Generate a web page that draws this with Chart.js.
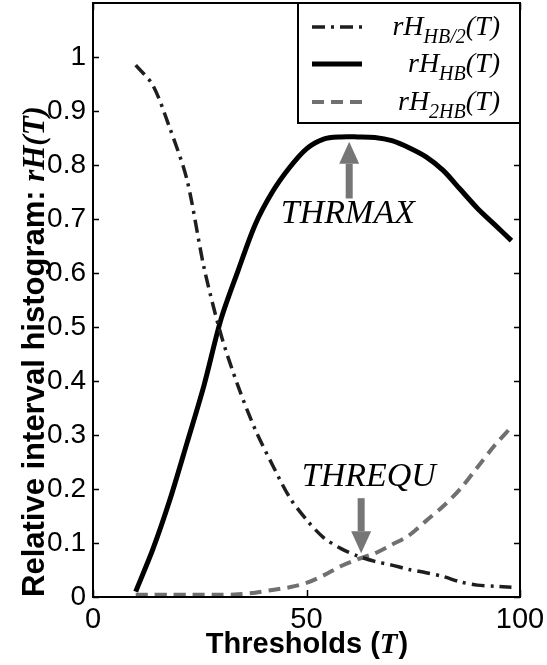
<!DOCTYPE html>
<html lang="en">
  <head>
    <meta charset="UTF-8">
    <title>Relative interval histogram</title>
    <script src="https://cdn.jsdelivr.net/npm/chart.js"></script>
    <style>
      body { margin: 0; background: #fff; }
      canvas { display: block; }
    </style>
  </head>

  <body>
    <canvas id="grafico" width="547" height="665"></canvas>

    <script>
      // data
      const thresholds = [10, 14, 18, 22, 26, 30, 34, 38, 42, 46, 50, 54, 58, 62, 66, 70, 74, 78, 82, 86, 90, 94, 98]
      const rhHalf = [0.985, 0.948, 0.868, 0.773, 0.61, 0.485, 0.39, 0.31, 0.245, 0.185, 0.143, 0.11, 0.09, 0.076, 0.066, 0.059, 0.051, 0.045, 0.038, 0.028, 0.022, 0.02, 0.018]
      const rhHB = [0.01, 0.088, 0.18, 0.285, 0.392, 0.515, 0.605, 0.69, 0.75, 0.795, 0.83, 0.848, 0.852, 0.852, 0.851, 0.845, 0.832, 0.815, 0.79, 0.755, 0.72, 0.69, 0.66]
      const rh2HB = [0.004, 0.004, 0.004, 0.004, 0.004, 0.004, 0.005, 0.008, 0.013, 0.018, 0.026, 0.04, 0.057, 0.07, 0.081, 0.097, 0.114, 0.141, 0.168, 0.2, 0.24, 0.28, 0.315]

      const xTicks = [0, 50, 100]
      const yTicks = [0, 0.1, 0.2, 0.3, 0.4, 0.5, 0.6, 0.7, 0.8, 0.9, 1]
      const yTickLabels = ["0", "0.1", "0.2", "0.3", "0.4", "0.5", "0.6", "0.7", "0.8", "0.9", "1"]

      // legend text pieces: subscripts
      const legendSubs = ["HB/2", "HB", "2HB"]

      const pares = (ys) => thresholds.map((t, i) => ({ x: t, y: ys[i] }))

      // frame with inward ticks (matlab style)
      const moldura = {
        id: 'moldura',
        afterDatasetsDraw(chart) {
          const { ctx, chartArea: a, scales } = chart
          ctx.save()
          ctx.strokeStyle = '#000'
          ctx.lineWidth = 2
          ctx.strokeRect(a.left, a.top, a.right - a.left, a.bottom - a.top)
          ctx.lineWidth = 1.5
          ctx.beginPath()
          yTicks.forEach(v => {
            const py = Math.round(scales.y.getPixelForValue(v)) + 0.5
            ctx.moveTo(a.left, py); ctx.lineTo(a.left + 6, py)
            ctx.moveTo(a.right, py); ctx.lineTo(a.right - 6, py)
          })
          xTicks.forEach(v => {
            const px = Math.round(scales.x.getPixelForValue(v)) + 0.5
            ctx.moveTo(px, a.bottom); ctx.lineTo(px, a.bottom - 7)
            ctx.moveTo(px, a.top); ctx.lineTo(px, a.top + 7)
          })
          ctx.stroke()
          ctx.restore()
        }
      }

      // arrows + labels
      const setas = [
        { texto: "THRMAX", x: 60, de: 0.738, ate: 0.843, tx: 59.7, ty: 0.692 },
        { texto: "THREQU", x: 62.8, de: 0.183, ate: 0.081, tx: 64.6, ty: 0.205 }
      ]
      const anotacoes = {
        id: 'anotacoes',
        afterDatasetsDraw(chart) {
          const { ctx, scales } = chart
          ctx.save()
          setas.forEach(s => {
            const px = scales.x.getPixelForValue(s.x)
            const y0 = scales.y.getPixelForValue(s.de)
            const y1 = scales.y.getPixelForValue(s.ate)
            const dir = y1 < y0 ? 1 : -1
            const baseCabeca = y1 + dir * 22
            ctx.fillStyle = '#767676'
            ctx.fillRect(px - 3.5, Math.min(y0, baseCabeca), 7, Math.abs(baseCabeca - y0))
            ctx.beginPath()
            ctx.moveTo(px, y1)
            ctx.lineTo(px - 10, baseCabeca)
            ctx.lineTo(px + 10, baseCabeca)
            ctx.closePath()
            ctx.fill()

            ctx.fillStyle = '#000'
            ctx.font = 'italic 34px "Liberation Serif"'
            ctx.textAlign = 'center'
            ctx.textBaseline = 'alphabetic'
            ctx.fillText(s.texto, scales.x.getPixelForValue(s.tx), scales.y.getPixelForValue(s.ty))
          })
          ctx.restore()
        }
      }

      // legend with subscripts
      const legenda = {
        id: 'legenda',
        afterDatasetsDraw(chart) {
          const { ctx, chartArea: a } = chart
          const caixa = { l: 298, t: a.top, r: a.right, b: 123 }
          ctx.save()
          ctx.fillStyle = '#fff'
          ctx.fillRect(caixa.l, caixa.t, caixa.r - caixa.l, caixa.b - caixa.t)
          ctx.strokeStyle = '#000'
          ctx.lineWidth = 2
          ctx.strokeRect(caixa.l, caixa.t, caixa.r - caixa.l, caixa.b - caixa.t)

          const linhas = [27, 64, 102]
          chart.data.datasets.forEach((ds, i) => {
            const yy = linhas[i]
            ctx.beginPath()
            ctx.strokeStyle = ds.borderColor
            ctx.lineWidth = ds.borderWidth
            ctx.setLineDash(ds.borderDash || [])
            ctx.moveTo(312, yy); ctx.lineTo(362, yy)
            ctx.stroke()
            ctx.setLineDash([])

            const fBase = 'italic 28px "Liberation Serif"'
            const fSub = 'italic 20px "Liberation Serif"'
            ctx.font = fBase
            const w1 = ctx.measureText("rH").width
            const w3 = ctx.measureText("(T)").width
            ctx.font = fSub
            const w2 = ctx.measureText(legendSubs[i]).width
            let xx = 500 - (w1 + w2 + w3)
            const base = yy + 8
            ctx.fillStyle = '#000'
            ctx.textAlign = 'left'
            ctx.textBaseline = 'alphabetic'
            ctx.font = fBase
            ctx.fillText("rH", xx, base); xx += w1
            ctx.font = fSub
            ctx.fillText(legendSubs[i], xx, base + 8); xx += w2
            ctx.font = fBase
            ctx.fillText("(T)", xx, base)
          })
          ctx.restore()
        }
      }

      // axis titles with mixed fonts
      const titulos = {
        id: 'titulos',
        afterDraw(chart) {
          const { ctx, chartArea: a } = chart
          ctx.save()
          ctx.fillStyle = '#000'
          ctx.textBaseline = 'alphabetic'
          ctx.textAlign = 'left'

          // x title
          const sans = 'bold 29px "Liberation Sans"'
          const serif = 'bold italic 29px "Liberation Serif"'
          ctx.font = sans
          const a1 = ctx.measureText("Thresholds (").width
          const a3 = ctx.measureText(")").width
          ctx.font = serif
          const a2 = ctx.measureText("T").width
          let xx = (a.left + a.right) / 2 - (a1 + a2 + a3) / 2
          ctx.font = sans; ctx.fillText("Thresholds (", xx, 653); xx += a1
          ctx.font = serif; ctx.fillText("T", xx, 653); xx += a2 + 1
          ctx.font = sans; ctx.fillText(")", xx, 653)

          // y title, starts at the bottom of the axis
          const sansY = 'bold 31px "Liberation Sans"'
          const serifY = 'bold italic 31px "Liberation Serif"'
          ctx.font = sansY
          const b1 = ctx.measureText("Relative interval histogram: ").width
          ctx.translate(44, 597)
          ctx.rotate(-Math.PI / 2)
          ctx.fillText("Relative interval histogram: ", 0, 0)
          ctx.font = serifY
          ctx.fillText("rH(T)", b1, 0)
          ctx.restore()
        }
      }

      const ctx = document.getElementById('grafico')

      new Chart(ctx, {
        type: 'line',
        data: {
          datasets: [
            {
              label: 'rH_HB/2(T)',
              data: pares(rhHalf),
              borderColor: '#1e1e1e',
              borderWidth: 3.5,
              borderDash: [13, 6, 3, 6]
            },
            {
              label: 'rH_HB(T)',
              data: pares(rhHB),
              borderColor: '#000',
              borderWidth: 5
            },
            {
              label: 'rH_2HB(T)',
              data: pares(rh2HB),
              borderColor: '#707070',
              borderWidth: 4,
              borderDash: [12, 7]
            }
          ]
        },
        options: {
          responsive: false,
          animation: false,
          devicePixelRatio: 1,
          layout: { padding: { top: 3, right: 27, left: 0, bottom: 0 } },
          elements: {
            point: { radius: 0 },
            line: { tension: 0.3, borderCapStyle: 'butt', borderJoinStyle: 'round' }
          },
          plugins: {
            legend: { display: false },
            tooltip: { enabled: false }
          },
          scales: {
            x: {
              type: 'linear',
              min: 0,
              max: 100,
              afterBuildTicks: s => { s.ticks = xTicks.map(v => ({ value: v })) },
              afterFit: s => { s.height = 68; s.paddingLeft = 0; s.paddingRight = 0 },
              grid: { display: false, drawTicks: false },
              border: { display: false },
              ticks: {
                color: '#000',
                padding: 6,
                maxRotation: 0,
                font: { family: 'Liberation Sans', size: 29 },
                callback: v => String(v)
              }
            },
            y: {
              min: 0,
              max: 1.1,
              afterBuildTicks: s => { s.ticks = yTicks.map(v => ({ value: v })) },
              afterFit: s => { s.width = 93; s.paddingTop = 0; s.paddingBottom = 0 },
              grid: { display: false, drawTicks: false },
              border: { display: false },
              ticks: {
                color: '#000',
                padding: 7,
                font: { family: 'Liberation Sans', size: 28 },
                callback: (v, i) => yTickLabels[i]
              }
            }
          }
        },
        plugins: [moldura, anotacoes, legenda, titulos]
      })
    </script>
  </body>
</html>
